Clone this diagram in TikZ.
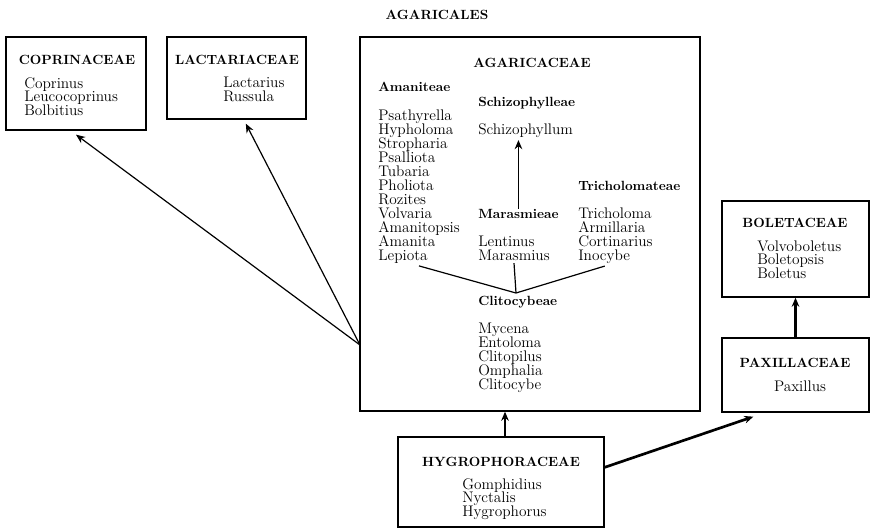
\documentclass[tikz,border=0pt]{standalone}
\usepackage{tikz}
\usetikzlibrary{arrows.meta,fit}
\newcommand\tightlines{\lineskiplimit=-10pt\relax}

\begin{document}
\begin{tikzpicture}[x=0.75pt, y=-0.75pt, >={Stealth[length=2.4mm, width=2mm]},
	box/.style={draw, line width=1pt, inner sep=0pt},
	famname/.style={font=\fontsize{10}{12}\selectfont\bfseries, inner sep=0pt},
	genera/.style={font={\fontsize{11.5}{#1}\selectfont\tightlines}, align=left, inner sep=0pt, anchor=base west},
	genera/.default=10.5,
	tribe/.style={font=\fontsize{10}{12}\selectfont\bfseries, inner sep=0pt, anchor=base west},
	thinarr/.style={->, line width=0.9pt},
	thickarr/.style={->, line width=2pt}]
	\useasboundingbox (0,0) rectangle (874,529);
	\node[famname] (order) at (437,15) {AGARICALES};

	\node[box, fit={(6,37) (146,130)}] (copr) {};
	\node[famname] (coprT) at (77,60) {COPRINACEAE};
	\node[genera=10] (coprG) at (24,115) {Coprinus\\Leucocoprinus\\Bolbitius};

	\node[box, fit={(167,37) (306,119)}] (lact) {};
	\node[famname] (lactT) at (237,60) {LACTARIACEAE};
	\node[genera=10] (lactG) at (223,101) {Lactarius\\Russula};

	\node[box, fit={(360,37) (700,411)}] (agar) {};
	\node[famname] (agarT) at (532,63) {AGARICACEAE};
	\node[tribe] (amanT) at (378,91) {Amaniteae};
	\node[genera] (amanG) at (378,260) {Psathyrella\\Hypholoma\\Stropharia\\Psalliota\\Tubaria\\Pholiota\\Rozites\\Volvaria\\Amanitopsis\\Amanita\\Lepiota};
	\node[tribe] (schizT) at (478,106) {Schizophylleae};
	\node[genera] (schizG) at (478,134) {Schizophyllum};
	\node[tribe] (trichT) at (578,190) {Tricholomateae};
	\node[genera] (trichG) at (578,260) {Tricholoma\\Armillaria\\Cortinarius\\Inocybe};
	\node[tribe] (marasT) at (478,218) {Marasmieae};
	\node[genera] (marasG) at (478,260) {Lentinus\\Marasmius};
	\node[tribe] (clitT) at (478,305) {Clitocybeae};
	\node[genera] (clitG) at (478,389) {Mycena\\Entoloma\\Clitopilus\\Omphalia\\Clitocybe};

	\coordinate (fork) at (516,293);
	\draw[line width=0.9pt] ([yshift=-2pt]amanG.south) -- (fork);
	\draw[line width=0.9pt] ([yshift=-2pt]marasG.south) -- (fork);
	\draw[line width=0.9pt] ([xshift=-8pt,yshift=-2pt]trichG.south) -- (fork);
	\draw[thinarr, shorten >=2pt] (marasT.north) -- (marasT.north |- schizG.south);

	\node[box, fit={(722,201) (869,297)}] (bolet) {};
	\node[famname] (boletT) at (795,223) {BOLETACEAE};
	\node[genera=10] (boletG) at (757,278) {Volvoboletus\\Boletopsis\\Boletus};

	\node[box, fit={(722,338) (869,412)}] (paxil) {};
	\node[famname] (paxilT) at (795,363) {PAXILLACEAE};
	\node[genera, anchor=base] (paxilG) at (800,391) {Paxillus};

	\node[box, fit={(398,437) (604,527)}] (hygro) {};
	\node[famname] (hygroT) at (501,462) {HYGROPHORACEAE};
	\node[genera=10] (hygroG) at (462,516) {Gomphidius\\Nyctalis\\Hygrophorus};

	\coordinate (agarW) at (360,345);
	\draw[thinarr] (agarW) -- ([yshift=-3pt]copr.south);
	\draw[thinarr] (agarW) -- ([xshift=7pt,yshift=-3pt]lact.south);
	\draw[thickarr] ([xshift=3pt]hygro.north) -- ([xshift=3pt]hygro.north |- agar.south);
	\draw[thickarr] ([yshift=11pt]hygro.east) -- ([xshift=24pt,yshift=-3pt]paxil.south west);
	\draw[thickarr] (paxil.north) -- (bolet.south);
\end{tikzpicture}
\end{document}
